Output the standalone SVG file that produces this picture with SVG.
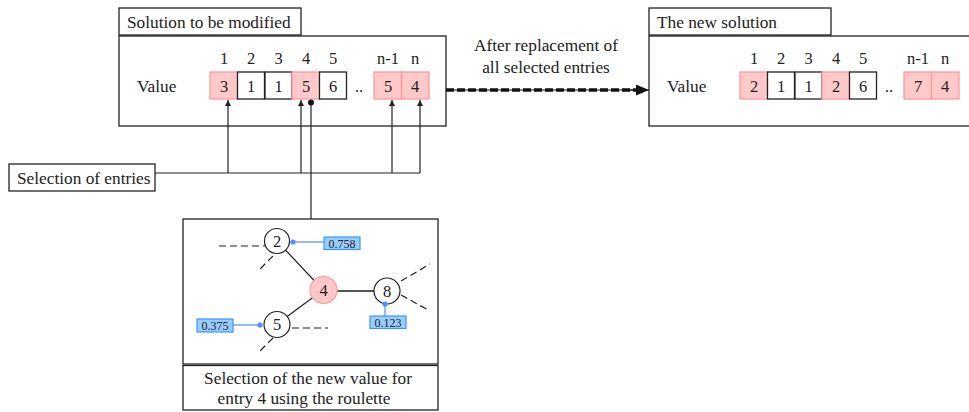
<svg xmlns="http://www.w3.org/2000/svg" width="969" height="412" viewBox="0 0 969 412" font-family="'Liberation Serif','DejaVu Serif',serif">
<defs>
<style>
.box{fill:#fff;stroke:#222;stroke-width:1.3}
.t{font-family:"Liberation Serif","DejaVu Serif",serif;font-size:17.3px;fill:#222}
.c{font-family:"Liberation Serif","DejaVu Serif",serif;font-size:16.5px;fill:#222;text-anchor:middle}
.cw{fill:#fff;stroke:#222;stroke-width:1.3}
.cp{fill:#ffc9c9;stroke:#ff9a9a;stroke-width:1.3}
.ln{stroke:#222;stroke-width:1.2;fill:none}
.dash{stroke:#222;stroke-width:1.2;fill:none;stroke-dasharray:7 4}
.node{fill:#fff;stroke:#222;stroke-width:1.2}
.bl{stroke:#4a90ff;stroke-width:1.2;fill:none}
.bbox{fill:#99ccff;stroke:#3399ff;stroke-width:1.2}
.bt{font-family:"Liberation Serif","DejaVu Serif",serif;font-size:12px;fill:#222;text-anchor:middle}
</style>
<marker id="ah" viewBox="0 0 10 10" refX="10" refY="5" markerWidth="6" markerHeight="6" markerUnits="userSpaceOnUse" orient="auto">
<path d="M0,0 L10,5 L0,10 z" fill="#222"/>
</marker>
<marker id="bh" viewBox="0 0 12 10" refX="12" refY="5" markerWidth="13" markerHeight="11" markerUnits="userSpaceOnUse" orient="auto">
<path d="M0,0 L12,5 L0,10 z" fill="#111"/>
</marker>
</defs>

<g id="solution-old">
<rect class="box" x="119" y="36" width="327" height="90"/>
<rect class="box" x="119" y="8" width="182" height="27"/>
<text class="t" x="127" y="27.5">Solution to be modified</text>
<text class="t" x="137" y="91.5">Value</text>
<g class="c">
<text x="224" y="64">1</text><text x="251" y="64">2</text><text x="278.5" y="64">3</text><text x="306" y="64">4</text><text x="333" y="64">5</text><text x="388" y="64">n-1</text><text x="415" y="64">n</text>
</g>
<rect class="cp" x="210" y="72" width="27.5" height="27"/>
<rect class="cw" x="237.5" y="72" width="27" height="27"/>
<rect class="cw" x="265" y="72" width="27" height="27"/>
<rect class="cp" x="292" y="72" width="27.5" height="27"/>
<rect class="cw" x="319.5" y="72" width="27" height="27"/>
<rect class="cp" x="374" y="72" width="27.5" height="27"/>
<rect class="cp" x="401.5" y="72" width="27.5" height="27"/>
<g class="c">
<text x="224" y="91.5">3</text><text x="251" y="91.5">1</text><text x="278.5" y="91.5">1</text><text x="306" y="91.5">5</text><text x="333" y="91.5">6</text><text x="359" y="91.5">..</text><text x="388" y="91.5">5</text><text x="415" y="91.5">4</text>
</g>
</g>

<g id="solution-new">
<rect class="box" x="649" y="36" width="327" height="90"/>
<rect class="box" x="649" y="8" width="182" height="27"/>
<text class="t" x="657" y="27.5">The new solution</text>
<text class="t" x="667" y="91.5">Value</text>
<g class="c">
<text x="754" y="64">1</text><text x="781" y="64">2</text><text x="808.5" y="64">3</text><text x="836" y="64">4</text><text x="863" y="64">5</text><text x="918" y="64">n-1</text><text x="945" y="64">n</text>
</g>
<rect class="cp" x="740" y="72" width="27.5" height="27"/>
<rect class="cw" x="767.5" y="72" width="27" height="27"/>
<rect class="cw" x="795" y="72" width="27" height="27"/>
<rect class="cp" x="822" y="72" width="27.5" height="27"/>
<rect class="cw" x="849.5" y="72" width="27" height="27"/>
<rect class="cp" x="904" y="72" width="27.5" height="27"/>
<rect class="cp" x="931.5" y="72" width="27.5" height="27"/>
<g class="c">
<text x="754" y="91.5">2</text><text x="781" y="91.5">1</text><text x="808.5" y="91.5">1</text><text x="836" y="91.5">2</text><text x="863" y="91.5">6</text><text x="889" y="91.5">..</text><text x="918" y="91.5">7</text><text x="945" y="91.5">4</text>
</g>
</g>

<g id="selection">
<rect class="box" x="9" y="164" width="146" height="27"/>
<text class="t" x="17" y="183.5">Selection of entries</text>
</g>

<g id="roulette">
<rect class="box" x="183" y="219" width="255" height="145"/>
<rect class="box" x="183" y="365.5" width="255" height="44.5"/>
<text class="t" x="308" y="384" text-anchor="middle">Selection of the new value for</text>
<text class="t" x="304" y="404" text-anchor="middle">entry 4 using the roulette</text>
<g id="graph">
<line class="ln" x1="277" y1="241" x2="323" y2="290"/>
<line class="ln" x1="277" y1="324" x2="323" y2="290"/>
<line x1="323" y1="291" x2="387" y2="291" stroke="#555" stroke-width="2"/>
<line class="dash" x1="219" y1="246" x2="265" y2="246"/>
<line class="dash" x1="273" y1="256" x2="258" y2="271"/>
<line class="dash" x1="292" y1="328" x2="328" y2="328"/>
<line class="dash" x1="273" y1="338" x2="258" y2="353"/>
<line class="dash" x1="401" y1="281" x2="430" y2="264"/>
<line class="dash" x1="401" y1="295" x2="430" y2="311"/>
<g id="node2"><circle class="node" cx="277" cy="241" r="12.5"/><text class="c" x="277" y="246.5">2</text></g>
<g id="node4"><circle cx="323.5" cy="290" r="13.5" fill="#ffc9c9" stroke="#ff9a9a" stroke-width="1.2"/><text class="c" x="323.5" y="295.5">4</text></g>
<g id="node5"><circle class="node" cx="277" cy="324.5" r="13"/><text class="c" x="277" y="330">5</text></g>
<g id="node8"><circle class="node" cx="387" cy="291" r="13"/><text class="c" x="387" y="296.5">8</text></g>
<g id="w758"><line class="bl" x1="293" y1="242" x2="324" y2="242"/><circle cx="293" cy="242" r="2.6" fill="#4a90ff"/><rect class="bbox" x="324" y="237" width="36" height="12.5"/><text class="bt" x="342" y="247.5">0.758</text></g>
<g id="w375"><line class="bl" x1="233" y1="325" x2="260" y2="325"/><circle cx="260" cy="325" r="2.6" fill="#4a90ff"/><rect class="bbox" x="197" y="319" width="36" height="13"/><text class="bt" x="215" y="330">0.375</text></g>
<g id="w123"><line class="bl" x1="385" y1="304" x2="385" y2="316"/><circle cx="385" cy="304" r="2.6" fill="#4a90ff"/><rect class="bbox" x="370" y="316" width="36" height="12.5"/><text class="bt" x="388" y="326.5">0.123</text></g>
</g>
</g>

<g id="connectors">
<polyline class="ln" points="155,173 420,173"/>
<line class="ln" x1="228" y1="173" x2="228" y2="100" marker-end="url(#ah)"/>
<line class="ln" x1="301" y1="173" x2="301" y2="100" marker-end="url(#ah)"/>
<line class="ln" x1="392" y1="173" x2="392" y2="100" marker-end="url(#ah)"/>
<line class="ln" x1="420" y1="173" x2="420" y2="100" marker-end="url(#ah)"/>
<line class="ln" x1="311" y1="102" x2="311" y2="219"/>
<circle cx="311" cy="102.5" r="3" fill="#111"/>
<line x1="446" y1="90" x2="637" y2="90" stroke="#111" stroke-width="1"/>
<line x1="446" y1="90" x2="637" y2="90" stroke="#111" stroke-width="3.5" stroke-dasharray="8 3"/>
<line x1="630" y1="90" x2="649" y2="90" stroke="#111" stroke-width="1" marker-end="url(#bh)"/>
<text class="t" x="546" y="51" text-anchor="middle">After replacement of</text>
<text class="t" x="546" y="73" text-anchor="middle">all selected entries</text>
</g>
</svg>
